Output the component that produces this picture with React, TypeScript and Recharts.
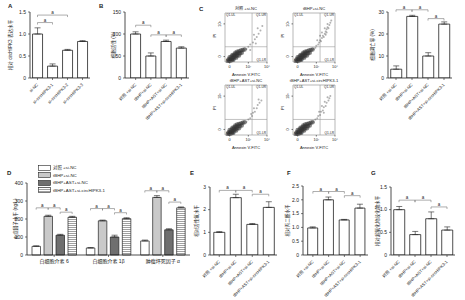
import React from "react";
import {
  BarChart,
  Bar,
  XAxis,
  YAxis,
  ErrorBar,
  ReferenceLine,
  ReferenceArea,
  ScatterChart,
  Scatter,
  Legend,
} from "recharts";

const FONT = '"Liberation Sans", "Noto Sans CJK SC", sans-serif';
const INK = "#222";
const GREY = "#777";

// ---- shared group names (B, C, E, F, G) ----
const groupCats = ["对照 +si-NC", "tBHP+si-NC", "tBHP+AST+si-NC", "tBHP+AST+si-circHIPK3-1"];

// ---- A ----
const aCats = ["si-NC", "si-circHIPK3-1", "si-circHIPK3-2", "si-circHIPK3-3"];
const aVals = [1.0, 0.27, 0.63, 0.83];
const aErr = [0.14, 0.05, 0.02, 0.02];
const aTicks = [0, 0.5, 1.0, 1.5];
const aBrackets: [number, number, number][] = [[0, 2, 1.43], [0, 1, 1.26]];

// ---- B ----
const bVals = [100, 50, 83, 68];
const bErr = [5, 7, 3, 3];
const bTicks = [0, 50, 100, 150];
const bBrackets: [number, number, number][] = [[0, 1, 120], [1, 2, 98], [2, 3, 98]];

// ---- C (apoptosis rate) ----
const cVals = [4, 28, 10, 24.5];
const cErr = [1.5, 0.5, 1.5, 1];
const cTicks = [0, 10, 20, 30];
const cBrackets: [number, number, number][] = [[0, 1, 31], [1, 2, 31], [2, 3, 27]];

// ---- E ----
const eVals = [1.0, 2.53, 1.35, 2.1];
const eErr = [0.03, 0.15, 0.04, 0.25];
const eTicks = [0, 1, 2, 3];
const eBrackets: [number, number, number][] = [[0, 1, 2.85], [1, 2, 2.85], [2, 3, 2.68]];

// ---- F ----
const fVals = [0.98, 2.0, 1.27, 1.7];
const fErr = [0.04, 0.1, 0.02, 0.14];
const fTicks = [0, 0.5, 1.0, 1.5, 2.0, 2.5];
const fBrackets: [number, number, number][] = [[0, 1, 2.3], [1, 2, 2.3], [2, 3, 2.15]];

// ---- G ----
const gVals = [1.0, 0.45, 0.8, 0.55];
const gErr = [0.07, 0.07, 0.15, 0.07];
const gTicks = [0, 0.5, 1.0, 1.5];
const gBrackets: [number, number, number][] = [[0, 1, 1.21], [1, 2, 1.21], [2, 3, 1.06]];

// ---- D (cytokines) ----
const dCats = ["白细胞介素 6", "白细胞介素 1β", "肿瘤坏死因子 α"];
const dSeries = ["对照 +si-NC", "tBHP+si-NC", "tBHP+AST+si-NC", "tBHP+AST+si-circHIPK3-1"];
const dS1 = [48, 39, 78];
const dS2 = [215, 190, 320];
const dS3 = [110, 100, 140];
const dS4 = [210, 202, 262];
const dE1 = [3, 2, 5];
const dE2 = [6, 4, 10];
const dE3 = [5, 10, 6];
const dE4 = [5, 5, 5];
const dTicks = [0, 100, 200, 300, 400];
// group, from bar, to bar, level
const dBrackets: [number, number, number, number][] = [
  [0, 0, 1, 262], [0, 1, 2, 262], [0, 2, 3, 238],
  [1, 0, 1, 258], [1, 1, 2, 258], [1, 2, 3, 235],
  [2, 0, 1, 357], [2, 1, 2, 357], [2, 2, 3, 294],
];
const dFills = ["#ffffff", "#c9c9c9", "#6f6f6f", "url(#hstripe)"];

// ---- C flow cytometry ----
const flowTitles = ["对照 +si-NC", "tBHP+si-NC", "tBHP+AST+si-NC", "tBHP+AST+si-circHIPK3-1"];
const flowTickLabels = ["0", "10¹", "10²", "10³", "10⁴"];
const flowCore = [
  [-0.2, -0.4], [0, -0.4], [0.2, -0.35], [0.4, -0.3],
  [-0.1, -0.25], [0.1, -0.2], [0.3, -0.15], [0.5, -0.1], [0.7, -0.1],
  [0, -0.05], [0.2, 0], [0.4, 0.05], [0.6, 0.05], [0.8, 0.1], [1.0, 0.1],
  [0.3, 0.15], [0.5, 0.2], [0.7, 0.25], [0.9, 0.3], [1.1, 0.3], [1.3, 0.35],
  [0.6, 0.35], [0.8, 0.45], [1.0, 0.5], [1.2, 0.55], [1.4, 0.6], [1.6, 0.65],
];
const flowTrailCtrl = [
  [1.8, 0.7], [2.0, 0.9], [2.2, 1.1], [2.5, 1.3], [2.7, 1.6], [2.9, 1.8], [3.1, 2.1],
  [3.3, 2.4], [2.6, 2.0], [3.0, 2.6], [3.5, 2.8], [2.2, 0.6], [2.8, 1.2],
];
const flowTrailTbhp = [
  [1.7, 0.7], [1.9, 0.8], [2.0, 1.0], [2.2, 1.1], [2.3, 1.3], [2.4, 1.5], [2.5, 1.4],
  [2.6, 1.7], [2.7, 1.9], [2.8, 1.8], [2.9, 2.1], [3.0, 2.3], [3.1, 2.2], [3.1, 2.5],
  [3.2, 2.7], [3.3, 2.6], [3.4, 2.9], [3.5, 3.1], [2.6, 2.2], [2.9, 2.6], [3.2, 3.0],
  [3.6, 3.3], [2.1, 1.5], [2.4, 1.9], [3.0, 2.0],
];
const flowTrailAst = [
  [1.8, 0.7], [2.0, 0.9], [2.2, 1.0], [2.4, 1.2], [2.5, 1.5], [2.7, 1.6], [2.9, 1.9],
  [3.0, 2.2], [3.2, 2.4], [3.4, 2.6], [2.6, 1.9], [3.1, 2.7], [2.3, 1.4],
];
const flowTrailSi = [
  [1.7, 0.7], [1.9, 0.9], [2.1, 1.0], [2.2, 1.2], [2.4, 1.3], [2.5, 1.6], [2.7, 1.7],
  [2.8, 2.0], [3.0, 2.1], [3.1, 2.4], [3.3, 2.6], [3.4, 2.8], [3.5, 3.0], [2.6, 2.1],
  [2.9, 2.5], [3.2, 2.9], [2.3, 1.6], [2.8, 1.5],
];

type Box = { x0: number; y0: number; x1: number; y1: number };

const fmt1 = (v: number) => (v === 0 ? "0" : v.toFixed(1));
const fmt0 = (v: number) => String(v);

const RotTick = (props: any) => {
  const { x, y, payload } = props;
  const ty = y + 3;
  return (
    <text
      x={x + 1}
      y={ty}
      transform={`rotate(-45 ${x + 1} ${ty})`}
      textAnchor="end"
      fontSize={4.2}
      fill={INK}
      fontFamily={FONT}
    >
      {payload.value}
    </text>
  );
};

const axisLine = { stroke: INK, strokeWidth: 0.8 };
const tickLine = { stroke: INK, strokeWidth: 0.6 };
const aLabel = { value: "a", position: "top", offset: 1, fontSize: 4.5, fill: INK } as any;

function SimplePanel(props: {
  box: Box;
  cats: string[];
  vals: number[];
  errs: number[];
  ticks: number[];
  fmt: (v: number) => string;
  yLabel: string;
  labelDist: number;
  brackets: [number, number, number][];
  pad?: number;
}) {
  const { box, cats, vals, errs, ticks, fmt, yLabel, labelDist, brackets, pad = 0 } = props;
  const L = 30, T = 12, R = 4, B = 62, yW = 26;
  const data = cats.map((c, i) => ({ name: c, v: vals[i], e: [0, errs[i]] }));
  const w = box.x1 - box.x0 + L + R;
  const h = box.y1 - box.y0 + T + B;
  const top = ticks[ticks.length - 1];
  const drop = top * 0.03;
  return (
    <div style={{ position: "absolute", left: box.x0 - L, top: box.y0 - T }}>
      <BarChart
        width={w}
        height={h}
        data={data}
        margin={{ top: T, right: R, bottom: 0, left: L - yW }}
        barCategoryGap="17%"
      >
        <XAxis
          dataKey="name"
          height={B}
          interval={0}
          tick={<RotTick />}
          tickSize={2}
          axisLine={axisLine}
          tickLine={tickLine}
          padding={{ left: pad, right: 0 }}
        />
        <YAxis
          width={yW}
          domain={[0, top]}
          ticks={ticks}
          tickFormatter={fmt}
          tick={{ fontSize: 5, fill: INK, fontFamily: FONT }}
          tickSize={2}
          axisLine={axisLine}
          tickLine={tickLine}
          allowDataOverflow
          label={{
            value: yLabel,
            angle: -90,
            position: "insideLeft",
            offset: yW - labelDist,
            style: { textAnchor: "middle", fontSize: 4.6, fill: INK, fontFamily: FONT },
          }}
        />
        <Bar dataKey="v" fill="#fff" stroke={INK} strokeWidth={0.8} isAnimationActive={false}>
          <ErrorBar dataKey="e" width={3} stroke={INK} strokeWidth={0.6} direction="y" />
        </Bar>
        {brackets.map(([a, b, lvl], k) => (
          <React.Fragment key={k}>
            <ReferenceLine
              segment={[{ x: cats[a], y: lvl }, { x: cats[b], y: lvl }]}
              stroke={GREY}
              strokeWidth={0.6}
              ifOverflow="visible"
              label={aLabel}
            />
            <ReferenceLine
              segment={[{ x: cats[a], y: lvl }, { x: cats[a], y: lvl - drop }]}
              stroke={GREY}
              strokeWidth={0.6}
              ifOverflow="visible"
            />
            <ReferenceLine
              segment={[{ x: cats[b], y: lvl }, { x: cats[b], y: lvl - drop }]}
              stroke={GREY}
              strokeWidth={0.6}
              ifOverflow="visible"
            />
          </React.Fragment>
        ))}
      </BarChart>
    </div>
  );
}

// ---- grouped panel D ----
const D_BAR = 8.5;
const D_GAP = 3.5;

// legend drawn in series order (recharts sorts its payload by name)
const LegendBox = () => (
  <div style={{ fontFamily: FONT, fontSize: 4.4, color: INK, lineHeight: "7.5px" }}>
    {dSeries.map((name, i) => (
      <div key={i} style={{ display: "flex", alignItems: "center", height: 7.5 }}>
        <svg width={13} height={6} style={{ marginRight: 2 }}>
          <rect x={0.5} y={0.5} width={12} height={5} fill={dFills[i]} stroke={INK} strokeWidth={0.6} />
        </svg>
        <span>{name}</span>
      </div>
    ))}
  </div>
);

function PanelD() {
  const box: Box = { x0: 27, y0: 183, x1: 190, y1: 255 };
  const L = 26, T = 12, R = 4, B = 14, yW = 22;
  const data = dCats.map((c, i) => ({
    name: c,
    s1: dS1[i], s2: dS2[i], s3: dS3[i], s4: dS4[i],
    e1: [0, dE1[i]], e2: [0, dE2[i]], e3: [0, dE3[i]], e4: [0, dE4[i]],
  }));
  const w = box.x1 - box.x0 + L + R;
  const h = box.y1 - box.y0 + T + B;
  const margin = { top: T, right: R, bottom: 0, left: L - yW };
  const band = (box.x1 - box.x0) / dCats.length;
  const sum = 4 * D_BAR + 3 * D_GAP;
  // centre of bar i in group g, in group units (group g spans g..g+1)
  const barX = (g: number, i: number) =>
    g + ((band - sum) / 2 + D_BAR / 2 + i * (D_BAR + D_GAP)) / band;
  const drop = 10;
  const keys = ["s1", "s2", "s3", "s4"];
  const errKeys = ["e1", "e2", "e3", "e4"];
  return (
    <>
      <div style={{ position: "absolute", left: box.x0 - L, top: box.y0 - T }}>
        <BarChart width={w} height={h} data={data} margin={margin} barSize={D_BAR} barGap={D_GAP}>
          <defs>
            <pattern id="hstripe" width={4} height={2} patternUnits="userSpaceOnUse">
              <rect width={4} height={2} fill="#fff" />
              <line x1={0} y1={0.5} x2={4} y2={0.5} stroke="#777" strokeWidth={0.7} />
            </pattern>
          </defs>
          <XAxis
            dataKey="name"
            height={B}
            interval={0}
            tick={{ fontSize: 5, fill: INK, fontFamily: FONT }}
            tickSize={2}
            axisLine={axisLine}
            tickLine={tickLine}
          />
          <YAxis
            width={yW}
            domain={[0, 400]}
            ticks={dTicks}
            tick={{ fontSize: 5, fill: INK, fontFamily: FONT }}
            tickSize={2}
            axisLine={axisLine}
            tickLine={tickLine}
            label={{
              value: "炎症因子水平 (ng/L)",
              angle: -90,
              position: "insideLeft",
              offset: yW - 12,
              style: { textAnchor: "middle", fontSize: 4.6, fill: INK, fontFamily: FONT },
            }}
          />
          <Legend
            layout="vertical"
            align="center"
            verticalAlign="middle"
            content={<LegendBox />}
            wrapperStyle={{ left: 38 - (box.x0 - L), top: 164 - (box.y0 - T), width: 120 }}
          />
          {keys.map((k, i) => (
            <Bar
              key={k}
              dataKey={k}
              name={dSeries[i]}
              fill={dFills[i]}
              stroke={INK}
              strokeWidth={0.7}
              isAnimationActive={false}
            >
              <ErrorBar dataKey={errKeys[i]} width={3} stroke={INK} strokeWidth={0.6} direction="y" />
            </Bar>
          ))}
        </BarChart>
      </div>
      {/* significance brackets on a numeric overlay with the same plot box */}
      <div style={{ position: "absolute", left: box.x0 - L, top: box.y0 - T, pointerEvents: "none" }}>
        <ScatterChart width={w} height={h} margin={margin}>
          <XAxis type="number" dataKey="x" domain={[0, 3]} allowDataOverflow height={B} tick={false} axisLine={false} tickLine={false} />
          <YAxis type="number" dataKey="y" domain={[0, 400]} allowDataOverflow width={yW} tick={false} axisLine={false} tickLine={false} />
          {dBrackets.map(([g, a, b, lvl], k) => (
            <React.Fragment key={k}>
              <ReferenceLine
                segment={[{ x: barX(g, a), y: lvl }, { x: barX(g, b), y: lvl }]}
                stroke={GREY}
                strokeWidth={0.6}
                ifOverflow="visible"
                label={aLabel}
              />
              <ReferenceLine
                segment={[{ x: barX(g, a), y: lvl }, { x: barX(g, a), y: lvl - drop }]}
                stroke={GREY}
                strokeWidth={0.6}
                ifOverflow="visible"
              />
              <ReferenceLine
                segment={[{ x: barX(g, b), y: lvl }, { x: barX(g, b), y: lvl - drop }]}
                stroke={GREY}
                strokeWidth={0.6}
                ifOverflow="visible"
              />
            </React.Fragment>
          ))}
        </ScatterChart>
      </div>
    </>
  );
}

// ---- flow cytometry plots ----
const VTick = (props: any) => {
  const { x, y, payload } = props;
  return (
    <text
      x={x - 0.5}
      y={y}
      transform={`rotate(-90 ${x - 0.5} ${y})`}
      textAnchor="middle"
      fontSize={3.8}
      fill={INK}
      fontFamily={FONT}
    >
      {flowTickLabels[payload.value]}
    </text>
  );
};

const coreDot = (p: any) => <circle cx={p.cx} cy={p.cy} r={2.2} fill="#333" fillOpacity={0.6} stroke="none" />;
const trailDot = (p: any) => <circle cx={p.cx} cy={p.cy} r={1} fill="#666" fillOpacity={0.5} stroke="none" />;

function FlowPlot(props: { box: Box; title: string; trail: number[][] }) {
  const { box, title, trail } = props;
  const L = 14, T = 10, R = 10, B = 14, yW = 11;
  const w = box.x1 - box.x0 + L + R;
  const h = box.y1 - box.y0 + T + B;
  const core = flowCore.map(([x, y]) => ({ x, y }));
  const tr = trail.map(([x, y]) => ({ x, y }));
  const qx = 2.4, qy = 0.9, lo = -0.5, hi = 4;
  const qLabel = (value: string, position: string) => ({
    value,
    position,
    offset: 1,
    fontSize: 3.2,
    fill: INK,
    fontFamily: FONT,
  });
  return (
    <div style={{ position: "absolute", left: box.x0 - L, top: box.y0 - T }}>
      <ScatterChart width={w} height={h} margin={{ top: T, right: R, bottom: 0, left: L - yW }}>
        <XAxis
          type="number"
          dataKey="x"
          domain={[lo, hi]}
          ticks={[0, 1, 2, 3, 4]}
          tickFormatter={(v: number) => flowTickLabels[v]}
          height={B}
          tick={{ fontSize: 3.8, fill: INK, fontFamily: FONT }}
          tickSize={1.5}
          axisLine={false}
          tickLine={tickLine}
          label={{ value: "Annexin V-FITC", position: "insideBottom", offset: 0.5, fontSize: 4, fill: INK, fontFamily: FONT }}
        />
        <YAxis
          type="number"
          dataKey="y"
          domain={[lo, hi]}
          ticks={[0, 1, 2, 3]}
          width={yW}
          tick={<VTick />}
          tickSize={1.5}
          axisLine={false}
          tickLine={tickLine}
          label={{ value: "PI", angle: -90, position: "insideLeft", offset: 1, fontSize: 4, fill: INK, fontFamily: FONT }}
        />
        <ReferenceArea
          x1={lo} x2={hi} y1={lo} y2={hi}
          fill="none" stroke="#888" strokeWidth={0.6} fillOpacity={0}
          label={{ value: title, position: "top", offset: 3, fontSize: 4.1, fill: INK, fontFamily: FONT }}
        />
        <ReferenceArea x1={lo} x2={qx} y1={qy} y2={hi} fillOpacity={0} strokeOpacity={0} label={qLabel("Q1-UL", "insideTopLeft")} />
        <ReferenceArea x1={qx} x2={hi} y1={qy} y2={hi} fillOpacity={0} strokeOpacity={0} label={qLabel("Q1-UR", "insideTopRight")} />
        <ReferenceArea x1={lo} x2={qx} y1={lo} y2={qy} fillOpacity={0} strokeOpacity={0} label={qLabel("Q1-LL", "insideBottomLeft")} />
        <ReferenceArea x1={qx} x2={hi} y1={lo} y2={qy} fillOpacity={0} strokeOpacity={0} label={qLabel("Q1-LR", "insideBottomRight")} />
        <ReferenceLine x={qx} stroke="#999" strokeWidth={0.6} />
        <ReferenceLine y={qy} stroke="#999" strokeWidth={0.6} />
        <Scatter data={tr} shape={trailDot} isAnimationActive={false} />
        <Scatter data={core} shape={coreDot} isAnimationActive={false} />
      </ScatterChart>
    </div>
  );
}

const letter = (ch: string, x: number, y: number) => (
  <div
    style={{
      position: "absolute",
      left: x,
      top: y,
      fontFamily: FONT,
      fontWeight: 700,
      fontSize: 6,
      lineHeight: "6px",
      color: INK,
    }}
  >
    {ch}
  </div>
);

export default function App() {
  return (
    <div
      style={{
        position: "absolute",
        left: 0,
        top: 0,
        width: 465,
        height: 300,
        overflow: "hidden",
        background: "#fff",
        fontFamily: FONT,
      }}
    >
      {letter("A", 8, 3)}
      {letter("B", 99, 3)}
      {letter("C", 199, 6)}
      {letter("D", 7, 170)}
      {letter("E", 190, 170)}
      {letter("F", 287, 170)}
      {letter("G", 371, 170)}

      <SimplePanel
        box={{ x0: 30, y0: 12, x1: 90, y1: 78 }}
        cats={aCats} vals={aVals} errs={aErr} ticks={aTicks} fmt={fmt1}
        yLabel="相对 circHIPK3 表达水平" labelDist={20} brackets={aBrackets}
      />
      <SimplePanel
        box={{ x0: 125, y0: 12, x1: 189, y1: 78 }}
        cats={groupCats} vals={bVals} errs={bErr} ticks={bTicks} fmt={fmt0}
        yLabel="细胞活性 (%)" labelDist={12} brackets={bBrackets} pad={3}
      />

      <FlowPlot box={{ x0: 225, y0: 13, x1: 267, y1: 62 }} title={flowTitles[0]} trail={flowTrailCtrl} />
      <FlowPlot box={{ x0: 293, y0: 13, x1: 335, y1: 62 }} title={flowTitles[1]} trail={flowTrailTbhp} />
      <FlowPlot box={{ x0: 225, y0: 85, x1: 267, y1: 135 }} title={flowTitles[2]} trail={flowTrailAst} />
      <FlowPlot box={{ x0: 293, y0: 85, x1: 335, y1: 135 }} title={flowTitles[3]} trail={flowTrailSi} />

      <SimplePanel
        box={{ x0: 388, y0: 12, x1: 452, y1: 78 }}
        cats={groupCats} vals={cVals} errs={cErr} ticks={cTicks} fmt={fmt0}
        yLabel="细胞凋亡率 (%)" labelDist={16} brackets={cBrackets}
      />

      <PanelD />

      <SimplePanel
        box={{ x0: 210, y0: 187, x1: 277, y1: 255 }}
        cats={groupCats} vals={eVals} errs={eErr} ticks={eTicks} fmt={fmt0}
        yLabel="相对活性氧水平" labelDist={14} brackets={eBrackets} pad={1}
      />
      <SimplePanel
        box={{ x0: 303, y0: 186, x1: 368, y1: 255 }}
        cats={groupCats} vals={fVals} errs={fErr} ticks={fTicks} fmt={fmt1}
        yLabel="相对丙二醛水平" labelDist={16} brackets={fBrackets} pad={2}
      />
      <SimplePanel
        box={{ x0: 391, y0: 187, x1: 455, y1: 255 }}
        cats={groupCats} vals={gVals} errs={gErr} ticks={gTicks} fmt={fmt1}
        yLabel="相对超氧化物歧化酶水平" labelDist={14} brackets={gBrackets}
      />
    </div>
  );
}
